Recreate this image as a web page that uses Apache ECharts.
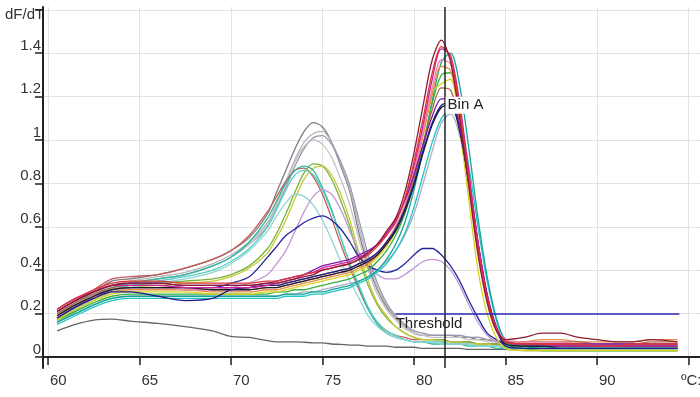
<!DOCTYPE html>
<html>
<head>
<meta charset="utf-8">
<script src="https://cdn.jsdelivr.net/npm/echarts@6/dist/echarts.min.js"></script>
<style>
html, body { margin: 0; padding: 0; background: #fff; }
#chart { width: 700px; height: 397px; }
</style>
</head>
<body>
<div id="chart"></div>
<script>
// temperatures (ºC) at which every curve is sampled
var temps = [60.5, 61.5, 62.5, 63.5, 64.5, 66, 67.5, 69, 70, 71,
	72, 72.5, 73, 73.5, 74, 74.5, 75, 75.5, 76, 76.5,
	77, 77.5, 78, 78.5, 79, 79.5, 80, 80.5, 81, 81.5,
	82, 82.5, 83, 83.5, 84, 84.5, 85,
	86, 87, 88, 89, 90, 91, 92, 93, 94.4];

// high melting product (peak ~81.5)
var hDarkRed = [0.21,0.26,0.30,0.33,0.34,0.34,0.33,0.33,0.33,0.33,
	0.34,0.34,0.35,0.36,0.37,0.38,0.40,0.41,0.42,0.43,
	0.45,0.48,0.52,0.58,0.64,0.76,0.94,1.16,1.37,1.46,
	1.36,1.10,0.78,0.47,0.25,0.12,0.08,
	0.09,0.11,0.11,0.09,0.08,0.07,0.07,0.08,0.07];
var hRed = [0.22,0.27,0.31,0.34,0.35,0.35,0.34,0.34,0.34,0.34,
	0.35,0.35,0.36,0.37,0.38,0.39,0.40,0.41,0.42,0.43,
	0.45,0.47,0.51,0.56,0.62,0.73,0.90,1.10,1.31,1.43,
	1.38,1.14,0.82,0.50,0.27,0.13,0.07,
	0.06,0.06,0.06,0.06,0.05,0.05,0.06,0.06,0.06];
var hMagenta = [0.22,0.27,0.30,0.33,0.33,0.33,0.32,0.32,0.32,0.32,
	0.33,0.34,0.35,0.36,0.38,0.39,0.41,0.42,0.43,0.44,
	0.46,0.48,0.52,0.57,0.63,0.73,0.88,1.07,1.28,1.42,
	1.39,1.17,0.85,0.53,0.28,0.13,0.07,
	0.06,0.06,0.05,0.05,0.05,0.05,0.05,0.05,0.05];
var hTeal = [0.16,0.20,0.24,0.27,0.28,0.28,0.28,0.28,0.28,0.28,
	0.28,0.28,0.29,0.29,0.29,0.30,0.30,0.31,0.32,0.33,
	0.35,0.37,0.40,0.45,0.52,0.62,0.77,0.96,1.18,1.36,
	1.40,1.25,0.96,0.64,0.37,0.18,0.08,
	0.05,0.04,0.04,0.04,0.04,0.04,0.04,0.04,0.04];
var hPink = [0.19,0.24,0.28,0.31,0.32,0.32,0.31,0.31,0.31,0.31,
	0.32,0.32,0.33,0.34,0.35,0.36,0.37,0.38,0.39,0.40,
	0.42,0.44,0.48,0.53,0.60,0.70,0.85,1.04,1.24,1.37,
	1.35,1.15,0.84,0.52,0.28,0.14,0.08,
	0.07,0.07,0.07,0.06,0.06,0.06,0.06,0.06,0.06];
var hOrange = [0.18,0.23,0.27,0.30,0.31,0.31,0.31,0.30,0.30,0.30,
	0.31,0.31,0.32,0.33,0.34,0.35,0.36,0.37,0.38,0.39,
	0.41,0.43,0.47,0.52,0.59,0.69,0.84,1.02,1.21,1.34,
	1.32,1.12,0.81,0.50,0.27,0.13,0.07,
	0.07,0.08,0.08,0.07,0.07,0.07,0.07,0.08,0.08];
var hGreen = [0.17,0.21,0.25,0.28,0.29,0.29,0.29,0.29,0.29,0.29,
	0.29,0.30,0.30,0.31,0.31,0.32,0.33,0.34,0.35,0.36,
	0.38,0.40,0.44,0.49,0.56,0.66,0.80,0.98,1.17,1.30,
	1.31,1.13,0.83,0.52,0.28,0.13,0.06,
	0.04,0.03,0.03,0.03,0.03,0.03,0.03,0.03,0.03];
var hYellow = [0.17,0.22,0.26,0.29,0.30,0.30,0.30,0.29,0.29,0.29,
	0.30,0.30,0.31,0.32,0.33,0.34,0.35,0.36,0.37,0.38,
	0.40,0.42,0.46,0.51,0.58,0.69,0.85,1.05,1.22,1.26,
	1.28,1.05,0.72,0.40,0.20,0.09,0.04,
	0.03,0.03,0.03,0.03,0.03,0.03,0.03,0.03,0.03];
var hBrown = [0.20,0.25,0.29,0.32,0.33,0.33,0.32,0.32,0.32,0.32,
	0.33,0.33,0.34,0.35,0.36,0.37,0.38,0.39,0.40,0.41,
	0.43,0.45,0.48,0.53,0.60,0.69,0.82,0.98,1.14,1.24,
	1.23,1.07,0.80,0.50,0.27,0.13,0.07,
	0.07,0.07,0.07,0.07,0.06,0.06,0.06,0.07,0.07];
var hPurple = [0.21,0.26,0.30,0.33,0.34,0.34,0.33,0.33,0.33,0.33,
	0.34,0.35,0.36,0.37,0.38,0.40,0.42,0.43,0.44,0.45,
	0.47,0.49,0.52,0.57,0.63,0.72,0.84,0.98,1.11,1.19,
	1.19,1.06,0.82,0.53,0.29,0.14,0.07,
	0.06,0.06,0.06,0.06,0.06,0.06,0.06,0.06,0.06];
var hBlack = [0.19,0.24,0.28,0.31,0.32,0.32,0.32,0.31,0.31,0.31,
	0.32,0.32,0.33,0.34,0.35,0.36,0.37,0.38,0.39,0.40,
	0.42,0.44,0.47,0.52,0.58,0.67,0.79,0.94,1.07,1.15,
	1.16,1.04,0.80,0.51,0.28,0.13,0.06,
	0.05,0.05,0.05,0.05,0.05,0.05,0.05,0.05,0.05];
var hDarkBlue = [0.18,0.23,0.27,0.30,0.30,0.28,0.26,0.27,0.31,0.32,
	0.33,0.33,0.34,0.35,0.36,0.37,0.38,0.39,0.40,0.41,
	0.43,0.45,0.48,0.53,0.59,0.68,0.80,0.95,1.08,1.16,
	1.17,1.05,0.81,0.52,0.28,0.13,0.05,
	0.04,0.04,0.04,0.04,0.04,0.04,0.04,0.04,0.04];
var hCyan = [0.15,0.19,0.23,0.26,0.27,0.27,0.27,0.27,0.27,0.27,
	0.27,0.27,0.28,0.28,0.28,0.29,0.29,0.30,0.31,0.32,
	0.34,0.36,0.39,0.43,0.49,0.57,0.69,0.84,0.99,1.10,
	1.14,1.08,0.88,0.60,0.35,0.17,0.07,
	0.04,0.04,0.04,0.04,0.04,0.04,0.04,0.04,0.04];
var hLightGrey = [0.16,0.20,0.24,0.27,0.28,0.28,0.28,0.28,0.28,0.28,
	0.28,0.28,0.29,0.29,0.30,0.30,0.31,0.32,0.33,0.34,
	0.35,0.37,0.40,0.44,0.49,0.56,0.66,0.80,0.95,1.08,
	1.12,1.02,0.80,0.52,0.29,0.14,0.07,
	0.06,0.06,0.06,0.06,0.06,0.06,0.06,0.06,0.06];

// low melting product (peak ~74.5)
var lGrey = [0.20,0.25,0.30,0.35,0.36,0.38,0.41,0.45,0.49,0.55,
	0.66,0.76,0.86,0.96,1.04,1.08,1.06,0.99,0.88,0.76,
	0.57,0.42,0.31,0.23,0.18,0.14,0.11,0.10,0.10,0.10,
	0.10,0.09,0.09,0.08,0.08,0.07,0.06,
	0.05,0.05,0.05,0.05,0.04,0.04,0.04,0.04,0.04];
var lLightGrey = [0.19,0.24,0.29,0.33,0.35,0.37,0.39,0.43,0.47,0.53,
	0.62,0.71,0.81,0.91,0.99,1.03,1.04,0.99,0.89,0.77,
	0.60,0.44,0.32,0.24,0.18,0.14,0.11,0.10,0.10,0.10,
	0.10,0.10,0.09,0.09,0.08,0.07,0.06,
	0.05,0.05,0.05,0.04,0.04,0.04,0.04,0.04,0.04];
var lGreyPurple = [0.18,0.23,0.28,0.32,0.34,0.36,0.38,0.42,0.46,0.52,
	0.60,0.69,0.78,0.88,0.96,1.01,1.02,0.98,0.90,0.79,
	0.63,0.47,0.34,0.25,0.19,0.15,0.12,0.11,0.10,0.10,
	0.10,0.10,0.09,0.09,0.08,0.07,0.06,
	0.05,0.05,0.05,0.05,0.05,0.04,0.04,0.04,0.04];
var lSilver = [0.18,0.23,0.28,0.32,0.34,0.36,0.38,0.42,0.46,0.52,
	0.61,0.70,0.80,0.90,0.97,1.00,0.98,0.92,0.82,0.70,
	0.54,0.40,0.29,0.22,0.17,0.13,0.11,0.10,0.09,0.09,
	0.09,0.09,0.08,0.08,0.07,0.07,0.06,
	0.05,0.05,0.04,0.04,0.04,0.04,0.04,0.04,0.04];
var lGreen = [0.17,0.22,0.27,0.31,0.33,0.34,0.35,0.36,0.38,0.42,
	0.50,0.57,0.66,0.76,0.85,0.89,0.88,0.82,0.72,0.60,
	0.45,0.33,0.24,0.18,0.14,0.11,0.09,0.08,0.08,0.08,
	0.07,0.07,0.07,0.06,0.06,0.06,0.05,
	0.04,0.04,0.04,0.04,0.04,0.04,0.04,0.04,0.04];
var lYellow = [0.16,0.21,0.26,0.30,0.32,0.33,0.34,0.35,0.37,0.41,
	0.48,0.55,0.63,0.73,0.82,0.87,0.88,0.84,0.75,0.63,
	0.48,0.35,0.25,0.19,0.14,0.11,0.09,0.08,0.08,0.07,
	0.07,0.07,0.06,0.06,0.06,0.05,0.05,
	0.04,0.04,0.04,0.04,0.04,0.04,0.04,0.04,0.04];
var lTeal = [0.18,0.23,0.28,0.32,0.34,0.36,0.38,0.42,0.46,0.53,
	0.64,0.72,0.80,0.86,0.88,0.86,0.78,0.68,0.55,0.43,
	0.32,0.22,0.15,0.11,0.09,0.08,0.07,0.07,0.06,0.06,
	0.06,0.06,0.05,0.05,0.05,0.04,0.04,
	0.04,0.03,0.03,0.03,0.03,0.03,0.03,0.03,0.03];
var lCyan = [0.17,0.22,0.27,0.31,0.33,0.35,0.37,0.40,0.44,0.50,
	0.60,0.68,0.77,0.84,0.86,0.84,0.77,0.67,0.55,0.43,
	0.33,0.23,0.16,0.12,0.10,0.08,0.07,0.07,0.07,0.07,
	0.06,0.06,0.06,0.05,0.05,0.05,0.04,
	0.04,0.04,0.04,0.04,0.04,0.04,0.04,0.04,0.04];
var lLightTeal = [0.16,0.21,0.26,0.30,0.32,0.34,0.36,0.39,0.43,0.49,
	0.58,0.65,0.71,0.75,0.74,0.70,0.63,0.54,0.44,0.35,
	0.27,0.19,0.14,0.11,0.09,0.08,0.07,0.07,0.07,0.06,
	0.06,0.06,0.06,0.05,0.05,0.05,0.05,
	0.04,0.04,0.04,0.04,0.04,0.04,0.04,0.04,0.04];
var lRed = [0.21,0.26,0.31,0.36,0.37,0.38,0.41,0.45,0.49,0.56,
	0.67,0.74,0.81,0.86,0.87,0.83,0.75,0.64,0.52,0.41,
	0.31,0.22,0.16,0.12,0.10,0.09,0.08,0.08,0.08,0.08,
	0.07,0.07,0.07,0.06,0.06,0.06,0.05,
	0.05,0.05,0.05,0.05,0.05,0.05,0.05,0.05,0.05];
// two-product samples
var lLightPurple = [0.17,0.22,0.27,0.31,0.32,0.32,0.31,0.31,0.32,0.34,
	0.38,0.43,0.49,0.58,0.67,0.74,0.77,0.75,0.68,0.58,
	0.48,0.41,0.38,0.36,0.36,0.38,0.41,0.44,0.45,0.44,
	0.40,0.33,0.24,0.16,0.10,0.07,0.06,
	0.05,0.05,0.05,0.05,0.05,0.05,0.05,0.05,0.05];
var lDarkBlue = [0.18,0.23,0.28,0.31,0.32,0.32,0.32,0.32,0.34,0.37,
	0.46,0.51,0.56,0.59,0.62,0.64,0.65,0.63,0.59,0.53,
	0.46,0.42,0.40,0.39,0.40,0.43,0.47,0.50,0.50,0.47,
	0.42,0.35,0.26,0.18,0.11,0.08,0.06,
	0.05,0.05,0.04,0.04,0.04,0.04,0.04,0.04,0.04];
// no template control
var ntc = [0.12,0.15,0.17,0.175,0.165,0.155,0.14,0.12,0.095,0.09,
	0.075,0.07,0.07,0.07,0.068,0.065,0.065,0.06,0.058,0.055,
	0.055,0.05,0.05,0.05,0.045,0.045,0.045,0.04,0.04,0.04,
	0.04,0.04,0.035,0.035,0.035,0.035,0.035,
	0.03,0.03,0.03,0.03,0.03,0.03,0.03,0.03,0.03];

var yTicks = [0, 0.2, 0.4, 0.6, 0.8, 1, 1.2, 1.4];
var xTicks = [60, 65, 70, 75, 80, 85, 90];
var binA = 81.7;
var threshold = 0.2;

var curves = [
	['ntc', ntc, '#666666'],
	['lGrey', lGrey, '#7c7c7c'],
	['lLightGrey', lLightGrey, '#b4b4bc'],
	['lGreyPurple', lGreyPurple, '#9a98b0'],
	['lSilver', lSilver, '#c4c4c4'],
	['lRed', lRed, '#c85a5a'],
	['lGreen', lGreen, '#78b43c'],
	['lYellow', lYellow, '#c8c83a'],
	['lTeal', lTeal, '#2eb8a0'],
	['lCyan', lCyan, '#56d0c4'],
	['lLightTeal', lLightTeal, '#8ed4d4'],
	['lLightPurple', lLightPurple, '#c496d4'],
	['lDarkBlue', lDarkBlue, '#24249c'],
	['hLightGrey', hLightGrey, '#a8aec4'],
	['hCyan', hCyan, '#22c4c4'],
	['hTeal', hTeal, '#14a494'],
	['hGreen', hGreen, '#38b040'],
	['hYellow', hYellow, '#d8d41c'],
	['hOrange', hOrange, '#e88a44'],
	['hBrown', hBrown, '#a8684a'],
	['hPink', hPink, '#ec86a8'],
	['hBlack', hBlack, '#1c1c1c'],
	['hDarkBlue', hDarkBlue, '#1c1c8c'],
	['hPurple', hPurple, '#7c18a4'],
	['hMagenta', hMagenta, '#d01ea0'],
	['hRed', hRed, '#e03434'],
	['hDarkRed', hDarkRed, '#8c1c30']
];

var font = 'Liberation Sans';
var series = curves.map(function(c) {
	return {
		name : c[0],
		type : 'line',
		showSymbol : false,
		smooth : 0.3,
		lineStyle : { color : c[2], width : 1.3 },
		data : temps.map(function(t, i) { return [t, c[1][i]]; })
	};
});
// Bin A marker and threshold line, hung on the last series
series[series.length - 1].markLine = {
	silent : true,
	symbol : 'none',
	animation : false,
	data : [ {
		xAxis : binA,
		lineStyle : { color : '#222', width : 1.5, type : 'solid' },
		label : { show : false }
	}, [ {
		coord : [ 79, threshold ],
		lineStyle : { color : '#2a2ab0', width : 1.5, type : 'solid' },
		label : {
			show : true,
			position : 'insideStartBottom',
			formatter : 'Threshold',
			color : '#222',
			fontFamily : font,
			fontSize : 15,
			distance : [ 0, 3 ]
		}
	}, {
		coord : [ 94.5, threshold ]
	} ] ]
};
series[series.length - 1].markPoint = {
	silent : true,
	animation : false,
	symbol : 'rect',
	symbolSize : 1,
	itemStyle : { color : 'rgba(0,0,0,0)' },
	data : [ {
		coord : [ binA, 1.16 ],
		label : {
			show : true,
			position : 'right',
			distance : 0,
			formatter : 'Bin A',
			color : '#222',
			fontFamily : font,
			fontSize : 15,
			backgroundColor : '#fff',
			padding : [ 1, 4, 1, 2 ]
		}
	} ]
};

var myChart = echarts.init(document.getElementById('chart'));
myChart.setOption({
	animation : false,
	backgroundColor : '#fff',
	grid : { left : 43, right : 0, top : 7, bottom : 29, outerBoundsMode : 'none', containLabel : false },
	graphic : [ {
		type : 'text',
		left : 5,
		top : 7,
		style : { text : 'dF/dT', font : '15px "' + font + '"', fill : '#333' }
	}, {
		type : 'text',
		left : 681,
		top : 373,
		style : { text : 'ºC:', font : '15px "' + font + '"', fill : '#333' }
	} ],
	xAxis : {
		type : 'value',
		min : 59.73,
		max : 95.63,
		splitNumber : 7,
		minInterval : 5,
		maxInterval : 5,
		axisLine : { lineStyle : { color : '#222', width : 2 } },
		axisTick : { show : true, length : 8, lineStyle : { color : '#222', width : 1.5 } },
		axisLabel : {
			showMinLabel : false,
			showMaxLabel : false,
			align : 'left',
			margin : 5,
			padding : [ 0, 0, 0, 2 ],
			color : '#333',
			fontFamily : font,
			fontSize : 15,
			formatter : function(v) {
				return xTicks.indexOf(v) >= 0 ? String(v) : '';
			}
		},
		splitLine : {
			show : true,
			showMinLine : false,
			showMaxLine : false,
			lineStyle : { color : '#e2e2e2', width : 1 }
		}
	},
	yAxis : {
		type : 'value',
		min : -0.0507,
		max : 1.613,
		splitNumber : 8,
		minInterval : 0.2,
		maxInterval : 0.2,
		axisLine : { show : true, lineStyle : { color : '#222', width : 2 } },
		axisTick : { show : true, length : 8, lineStyle : { color : '#222', width : 1.5 } },
		axisLabel : {
			showMinLabel : false,
			showMaxLabel : false,
			verticalAlign : 'bottom',
			margin : 2,
			color : '#333',
			fontFamily : font,
			fontSize : 15,
			formatter : function(v) {
				return yTicks.indexOf(Math.round(v * 10) / 10) >= 0 ? String(Math.round(v * 10) / 10) : '';
			}
		},
		splitLine : {
			show : true,
			showMinLine : false,
			showMaxLine : false,
			lineStyle : { color : '#e2e2e2', width : 1 }
		}
	},
	series : series
});
</script>
</body>
</html>
